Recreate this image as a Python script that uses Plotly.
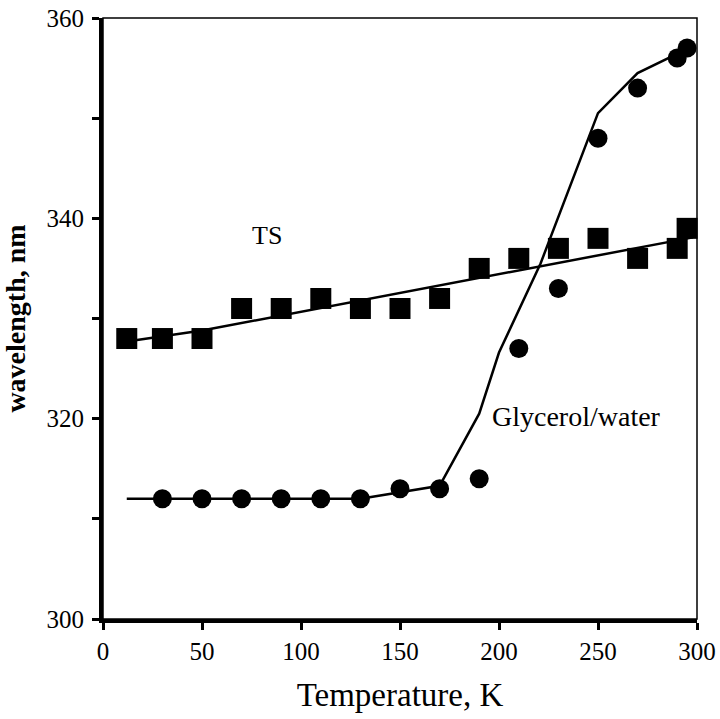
import plotly.graph_objects as go

# Data
ts_T = [12, 30, 50, 70, 90, 110, 130, 150, 170, 190, 210, 230, 250, 270, 290, 295]
ts_wl = [328, 328, 328, 331, 331, 332, 331, 331, 332, 335, 336, 337, 338, 336, 337, 339]
ts_fit_T = [12, 50, 298]
ts_fit_wl = [327.7, 328.8, 338.1]

gly_T = [30, 50, 70, 90, 110, 130, 150, 170, 190, 210, 230, 250, 270, 290, 295]
gly_wl = [312, 312, 312, 312, 312, 312, 313, 313, 314, 327, 333, 348, 353, 356, 357]
gly_fit_T = [12, 130, 170, 190, 200, 221, 250, 270, 298]
gly_fit_wl = [312, 312, 313.3, 320.5, 326.6, 335.5, 350.5, 354.5, 357.2]

y_ticks = [300, 310, 320, 330, 340, 350, 360]
y_ticktext = ["300", "", "320", "", "340", "", "360"]
x_ticks = [0, 50, 100, 150, 200, 250, 300]

FONT = "Liberation Serif, Times New Roman, serif"

fig = go.Figure()
fig.add_trace(go.Scatter(x=ts_fit_T, y=ts_fit_wl, mode="lines",
                         line=dict(color="black", width=2.5), showlegend=False))
fig.add_trace(go.Scatter(x=gly_fit_T, y=gly_fit_wl, mode="lines",
                         line=dict(color="black", width=2.5), showlegend=False))
fig.add_trace(go.Scatter(x=ts_T, y=ts_wl, mode="markers", cliponaxis=False,
                         marker=dict(symbol="square", size=21, color="black"),
                         showlegend=False))
fig.add_trace(go.Scatter(x=gly_T, y=gly_wl, mode="markers", cliponaxis=False,
                         marker=dict(symbol="circle", size=19, color="black"),
                         showlegend=False))

fig.add_annotation(x=83, y=338.3, text="TS", showarrow=False,
                   font=dict(family=FONT, size=26, color="black"))
fig.add_annotation(x=239, y=320.2, text="Glycerol/water", showarrow=False,
                   font=dict(family=FONT, size=28, color="black"))

# thin frame (top/right)
fig.add_shape(type="rect", xref="paper", yref="paper", x0=0, y0=0, x1=1, y1=1,
              line=dict(color="black", width=1.5), layer="below")

fig.update_layout(
    width=720, height=719,
    autosize=False,
    margin=dict(l=103, r=23, t=18, b=100, autoexpand=False),
    plot_bgcolor="white", paper_bgcolor="white",
    font=dict(family=FONT, color="black"),
    xaxis=dict(range=[0, 300], tickvals=x_ticks, ticks="outside", ticklen=7,
               tickwidth=3, tickcolor="black", showline=True, linewidth=4,
               linecolor="black", showgrid=False, zeroline=False, automargin=False,
               ticklabeloverflow="allow",
               tickfont=dict(family=FONT, size=25, color="black"),
               title=dict(text="Temperature, K", standoff=20,
                          font=dict(family=FONT, size=33, color="black"))),
    yaxis=dict(range=[300, 360], tickvals=y_ticks, ticktext=y_ticktext,
               ticks="outside", ticklen=7, tickwidth=3, tickcolor="black",
               showline=True, linewidth=4, linecolor="black", showgrid=False,
               zeroline=False, automargin=False, ticklabeloverflow="allow",
               ticklabelstandoff=3,
               tickfont=dict(family=FONT, size=25, color="black"),
               title=dict(text="<b>wavelength, nm</b>", standoff=17,
                          font=dict(family=FONT, size=28, color="black"))),
    xaxis2=dict(overlaying="x", range=[0, 300], tickvals=x_ticks, ticks="inside",
                ticklen=7, tickwidth=3, tickcolor="black", showticklabels=False,
                showline=False, showgrid=False, zeroline=False, side="bottom",
                automargin=False),
    yaxis2=dict(overlaying="y", range=[300, 360], tickvals=y_ticks, ticks="inside",
                ticklen=7, tickwidth=3, tickcolor="black", showticklabels=False,
                showline=False, showgrid=False, zeroline=False, side="left",
                automargin=False),
)

fig.write_html("out.html",
               config={"displayModeBar": False},
               post_script="document.body.style.margin='0';"
                           "document.body.style.overflow='hidden';")
